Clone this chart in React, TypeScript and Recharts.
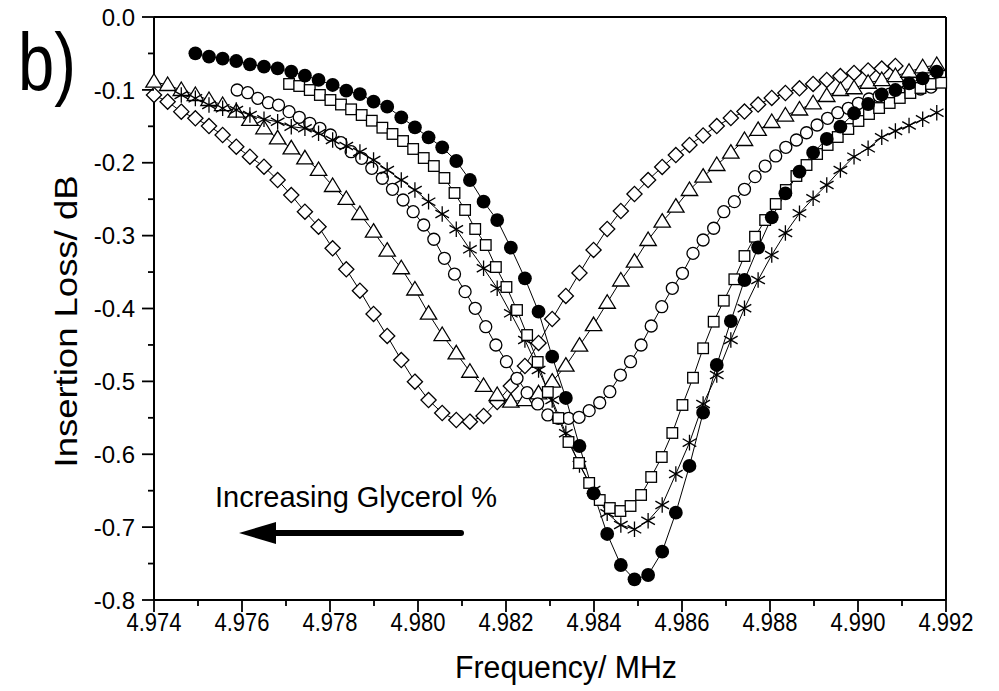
import React from 'react';
import { LineChart, Line, XAxis, YAxis, ReferenceLine } from 'recharts';

// two sweep grids: the 13.7 px-step curves and the denser 10.3 px-step ones
const FREQ_A = [
  4.974, 4.97431, 4.97462, 4.97494, 4.97525, 4.97556, 4.97587, 4.97618, 4.9765, 4.97681,
  4.97712, 4.97743, 4.97774, 4.97806, 4.97837, 4.97868, 4.97899, 4.9793, 4.97962, 4.97993,
  4.98024, 4.98055, 4.98087, 4.98118, 4.98149, 4.9818, 4.98211, 4.98243, 4.98274, 4.98305,
  4.98336, 4.98367, 4.98399, 4.9843, 4.98461, 4.98492, 4.98523, 4.98555, 4.98586, 4.98617,
  4.98648, 4.98679, 4.98711, 4.98742, 4.98773, 4.98804, 4.98835, 4.98867, 4.98898, 4.98929,
  4.9896, 4.98991, 4.99023, 4.99054, 4.99085, 4.99116, 4.99147, 4.99179,
];

const FREQ_B = [
  4.97589, 4.97613, 4.97636, 4.9766, 4.97683, 4.97707, 4.9773, 4.97754, 4.97777, 4.97801,
  4.97825, 4.97848, 4.97872, 4.97895, 4.97919, 4.97942, 4.97966, 4.97989, 4.98013, 4.98036,
  4.9806, 4.98083, 4.98107, 4.9813, 4.98154, 4.98177, 4.98201, 4.98225, 4.98248, 4.98272,
  4.98295, 4.98319, 4.98342, 4.98366, 4.98389, 4.98413, 4.98436, 4.9846, 4.98483, 4.98507,
  4.9853, 4.98554, 4.98578, 4.98601, 4.98625, 4.98648, 4.98672, 4.98695, 4.98719, 4.98742,
  4.98766, 4.98789, 4.98813, 4.98836, 4.9886, 4.98883, 4.98907, 4.98931, 4.98954, 4.98978,
  4.99001, 4.99025, 4.99048, 4.99072, 4.99095, 4.99119, 4.99142, 4.99166, 4.99189,
];

// insertion loss (dB) per series, null where the sweep has no point
const LOSS_DIAMOND = [
  -0.107, -0.1162, -0.1299, -0.139, -0.1496, -0.1619, -0.178, -0.1917, -0.2054, -0.2237,
  -0.2443, -0.2672, -0.2878, -0.3174, -0.3462, -0.3756, -0.4075, -0.4377, -0.4707, -0.5004,
  -0.5256, -0.5434, -0.553, -0.5553, -0.5475, -0.5283, -0.5064, -0.4789, -0.4473, -0.4144,
  -0.3828, -0.3513, -0.3197, -0.2909, -0.2662, -0.2429, -0.2237, -0.2058, -0.1894, -0.1756,
  -0.1626, -0.1496, -0.1386, -0.1297, -0.1201, -0.1111, -0.1043, -0.0978, -0.0919, -0.0864,
  -0.081, -0.0768, -0.0734, -0.0707, -0.0672, null, null, null,
];

const LOSS_TRIANGLE = [
  -0.0888, -0.0933, -0.1002, -0.107, -0.1139, -0.1208, -0.1299, -0.1413, -0.1527, -0.1665,
  -0.1802, -0.1939, -0.2099, -0.2319, -0.2497, -0.2703, -0.2946, -0.3207, -0.3448, -0.3739,
  -0.4071, -0.4364, -0.4615, -0.4868, -0.5063, -0.5187, -0.5278, -0.5256, -0.5164, -0.5004,
  -0.4785, -0.451, -0.4227, -0.3921, -0.3616, -0.3358, -0.306, -0.2809, -0.2603, -0.2374,
  -0.2191, -0.2031, -0.1862, -0.1688, -0.155, -0.1441, -0.1352, -0.1269, -0.1184, -0.1084,
  -0.1002, -0.0978, -0.0902, -0.0865, -0.081, -0.0751, -0.069, -0.0659,
];

const LOSS_STAR = [
  null, null, -0.107, -0.1116, -0.1208, -0.1253, -0.1276, -0.1345, -0.1404, -0.1437,
  -0.1505, -0.1527, -0.1596, -0.1688, -0.177, -0.1852, -0.1962, -0.2099, -0.2237, -0.2374,
  -0.2534, -0.2703, -0.2913, -0.3188, -0.3448, -0.3723, -0.4066, -0.4432, -0.4844, -0.5256,
  -0.5712, -0.6148, -0.6491, -0.681, -0.6971, -0.703, -0.6912, -0.6696, -0.6271, -0.5841,
  -0.531, -0.4913, -0.4432, -0.3997, -0.3609, -0.3266, -0.2964, -0.2694, -0.2488, -0.2305,
  -0.2099, -0.1917, -0.1802, -0.1651, -0.1564, -0.1489, -0.1404, -0.1313,
];

const LOSS_DISC = [
  null, null, null, -0.0498, -0.0545, -0.0572, -0.0604, -0.0649, -0.0682, -0.0704,
  -0.0751, -0.0805, -0.0864, -0.0933, -0.1011, -0.1057, -0.1162, -0.1231, -0.1376, -0.1514,
  -0.1651, -0.1788, -0.1976, -0.2237, -0.2534, -0.2786, -0.3166, -0.3586, -0.4044, -0.4661,
  -0.5228, -0.5887, -0.6536, -0.7094, -0.752, -0.7716, -0.7657, -0.7337, -0.6802, -0.6161,
  -0.543, -0.4775, -0.4172, -0.3609, -0.3163, -0.2749, -0.2419, -0.2123, -0.1862, -0.1674,
  -0.1505, -0.1321, -0.1194, -0.1061, -0.1002, -0.091, -0.0841, -0.0751,
];

const LOSS_CIRCLE = [
  -0.1002, -0.1039, -0.1116, -0.1176, -0.1208, -0.1299, -0.1376, -0.1459, -0.1527, -0.1619,
  -0.1725, -0.1848, -0.1939, -0.2076, -0.2213, -0.2364, -0.2511, -0.2672, -0.2854, -0.305,
  -0.3311, -0.3527, -0.3769, -0.3997, -0.425, -0.4501, -0.473, -0.4958, -0.5155, -0.531,
  -0.5461, -0.5507, -0.5507, -0.5493, -0.5402, -0.5293, -0.5142, -0.4913, -0.473, -0.4501,
  -0.424, -0.3975, -0.3723, -0.3517, -0.3243, -0.306, -0.2899, -0.2672, -0.2534, -0.2364,
  -0.2191, -0.2045, -0.1907, -0.1788, -0.1688, -0.1588, -0.1482, -0.139, -0.1313, -0.1253,
  -0.1184, -0.1125, -0.1084, -0.1057, -0.1043, -0.1015, -0.0988, -0.0961, null,
];

const LOSS_SQUARE = [
  null, null, null, null, null, -0.0919, -0.0947, -0.1002, -0.107, -0.1139,
  -0.1201, -0.1267, -0.1345, -0.1423, -0.1519, -0.1605, -0.1702, -0.1811, -0.1935, -0.2045,
  -0.2209, -0.2415, -0.2648, -0.2909, -0.3129, -0.3431, -0.3705, -0.4021, -0.4364, -0.4734,
  -0.5146, -0.5503, -0.5832, -0.612, -0.6394, -0.6628, -0.6738, -0.6779, -0.671, -0.6559,
  -0.6312, -0.6038, -0.5708, -0.5324, -0.495, -0.4546, -0.4181, -0.3893, -0.3599, -0.328,
  -0.3015, -0.2786, -0.2566, -0.2374, -0.2182, -0.2031, -0.188, -0.1756, -0.1647, -0.1537,
  -0.1427, -0.1331, -0.1249, -0.118, -0.1111, -0.1043, -0.0974, -0.0919, -0.0902,
];

const X_TICKS = [
  4.974, 4.975, 4.976, 4.977, 4.978, 4.979, 4.98, 4.981, 4.982, 4.983,
  4.984, 4.985, 4.986, 4.987, 4.988, 4.989, 4.99, 4.991, 4.992,
];
const Y_TICKS = [
  0, -0.05, -0.1, -0.15, -0.2, -0.25, -0.3, -0.35, -0.4, -0.45,
  -0.5, -0.55, -0.6, -0.65, -0.7, -0.75, -0.8,
];

const FONT = '"Liberation Sans", Arial, Helvetica, sans-serif';

function toPoints(freq: number[], loss: (number | null)[]) {
  return freq
    .map((f, i) => ({ f, v: loss[i] }))
    .filter((p) => p.v !== null && p.v !== undefined);
}

const SERIES = [
  { id: 'diamond', freq: FREQ_A, loss: LOSS_DIAMOND },
  { id: 'triangle', freq: FREQ_A, loss: LOSS_TRIANGLE },
  { id: 'circle', freq: FREQ_B, loss: LOSS_CIRCLE },
  { id: 'star', freq: FREQ_A, loss: LOSS_STAR },
  { id: 'square', freq: FREQ_B, loss: LOSS_SQUARE },
  { id: 'disc', freq: FREQ_A, loss: LOSS_DISC },
];

function Marker({ shape, cx, cy }: { shape: string; cx: number; cy: number }) {
  const open = { stroke: '#000', strokeWidth: 1.3, fill: '#fff' };
  switch (shape) {
    case 'disc':
      return <circle cx={cx} cy={cy} r={6.9} fill="#000" />;
    case 'circle':
      return <circle cx={cx} cy={cy} r={6} {...open} />;
    case 'square':
      return <rect x={cx - 5.3} y={cy - 5.3} width={10.6} height={10.6} {...open} />;
    case 'triangle':
      return <path d={`M${cx} ${cy - 8}L${cx + 8.2} ${cy + 5.5}L${cx - 8.2} ${cy + 5.5}Z`} {...open} />;
    case 'diamond':
      return <path d={`M${cx} ${cy - 7.6}L${cx + 7.6} ${cy}L${cx} ${cy + 7.6}L${cx - 7.6} ${cy}Z`} {...open} />;
    default:
      return (
        <path
          d={`M${cx} ${cy - 7.8}V${cy + 7.8}M${cx - 6.8} ${cy - 3.9}L${cx + 6.8} ${cy + 3.9}M${cx - 6.8} ${cy + 3.9}L${cx + 6.8} ${cy - 3.9}`}
          stroke="#000"
          strokeWidth={1.3}
          fill="none"
        />
      );
  }
}

function XTick({ x, y, payload }: any) {
  const v = payload.value;
  const major = Math.abs(v * 500 - Math.round(v * 500)) < 1e-6;
  return (
    <g>
      <line x1={x} x2={x} y1={y} y2={y + (major ? 12 : 6)} stroke="#000" strokeWidth={1.8} />
      {major && (
        <text
          x={x}
          y={y + 31}
          textAnchor="middle"
          fontSize={25}
          fontFamily={FONT}
          textLength={55}
          lengthAdjust="spacingAndGlyphs"
          fill="#000"
        >
          {v.toFixed(3)}
        </text>
      )}
    </g>
  );
}

function YTick({ x, y, payload }: any) {
  const v = payload.value;
  const major = Math.abs(v * 10 - Math.round(v * 10)) < 1e-6;
  return (
    <g>
      <line x1={x - (major ? 12 : 6)} x2={x} y1={y} y2={y} stroke="#000" strokeWidth={1.8} />
      {major && (
        <text x={x - 19} y={y} dy="0.36em" textAnchor="end" fontSize={24} fontFamily={FONT} fill="#000">
          {Math.abs(v) < 1e-9 ? '0.0' : v.toFixed(1)}
        </text>
      )}
    </g>
  );
}

export default function App() {
  return (
    <div style={{ position: 'absolute', left: 0, top: 0, width: 999, height: 691, background: '#fff' }}>
      <LineChart width={999} height={691} margin={{ top: 17, right: 53, left: 0, bottom: 0 }}>
        <XAxis
          type="number"
          dataKey="f"
          domain={[4.974, 4.992]}
          ticks={X_TICKS}
          interval={0}
          tickSize={0}
          tickMargin={0}
          height={91}
          axisLine={{ stroke: '#000', strokeWidth: 2 }}
          tick={<XTick />}
          label={{
            content: ({ viewBox }: any) => (
              <text
                x={viewBox.x + viewBox.width / 2 + 16}
                y={viewBox.y + 78}
                textAnchor="middle"
                fontSize={31}
                fontFamily={FONT}
                textLength={222}
                lengthAdjust="spacingAndGlyphs"
                fill="#000"
              >
                Frequency/ MHz
              </text>
            ),
          }}
        />
        <YAxis
          type="number"
          domain={[-0.8, 0]}
          ticks={Y_TICKS}
          interval={0}
          tickSize={0}
          tickMargin={0}
          width={154}
          axisLine={{ stroke: '#000', strokeWidth: 2 }}
          tick={<YTick />}
          label={{
            content: ({ viewBox }: any) => {
              const cy = viewBox.y + viewBox.height / 2 + 13;
              return (
                <text
                  transform={`translate(77 ${cy}) rotate(-90)`}
                  textAnchor="middle"
                  fontSize={31}
                  fontFamily={FONT}
                  textLength={292}
                  lengthAdjust="spacingAndGlyphs"
                  fill="#000"
                >
                  Insertion Loss/ dB
                </text>
              );
            },
          }}
        />
        <ReferenceLine y={0} stroke="#000" strokeWidth={2} />
        <ReferenceLine x={4.992} stroke="#000" strokeWidth={2} />
        {SERIES.map((s) => (
          <Line
            key={s.id}
            data={toPoints(s.freq, s.loss)}
            dataKey="v"
            type="linear"
            stroke="#000"
            strokeWidth={1}
            isAnimationActive={false}
            activeDot={false}
            dot={(p: any) => <Marker key={`${s.id}-${p.index}`} shape={s.id} cx={p.cx} cy={p.cy} />}
          />
        ))}
      </LineChart>
      <svg
        width={999}
        height={691}
        style={{ position: 'absolute', left: 0, top: 0, pointerEvents: 'none' }}
      >
        <text x={18} y={90} fontSize={82} fontFamily={FONT} textLength={58} lengthAdjust="spacingAndGlyphs" fill="#000">
          b)
        </text>
        <text
          x={497}
          y={507}
          textAnchor="end"
          fontSize={30}
          fontFamily={FONT}
          textLength={282}
          lengthAdjust="spacingAndGlyphs"
          fill="#000"
        >
          Increasing Glycerol %
        </text>
        <line x1={272} x2={461} y1={533} y2={533} stroke="#000" strokeWidth={6} strokeLinecap="round" />
        <path d="M239 533L276 522L276 544Z" fill="#000" />
      </svg>
    </div>
  );
}
